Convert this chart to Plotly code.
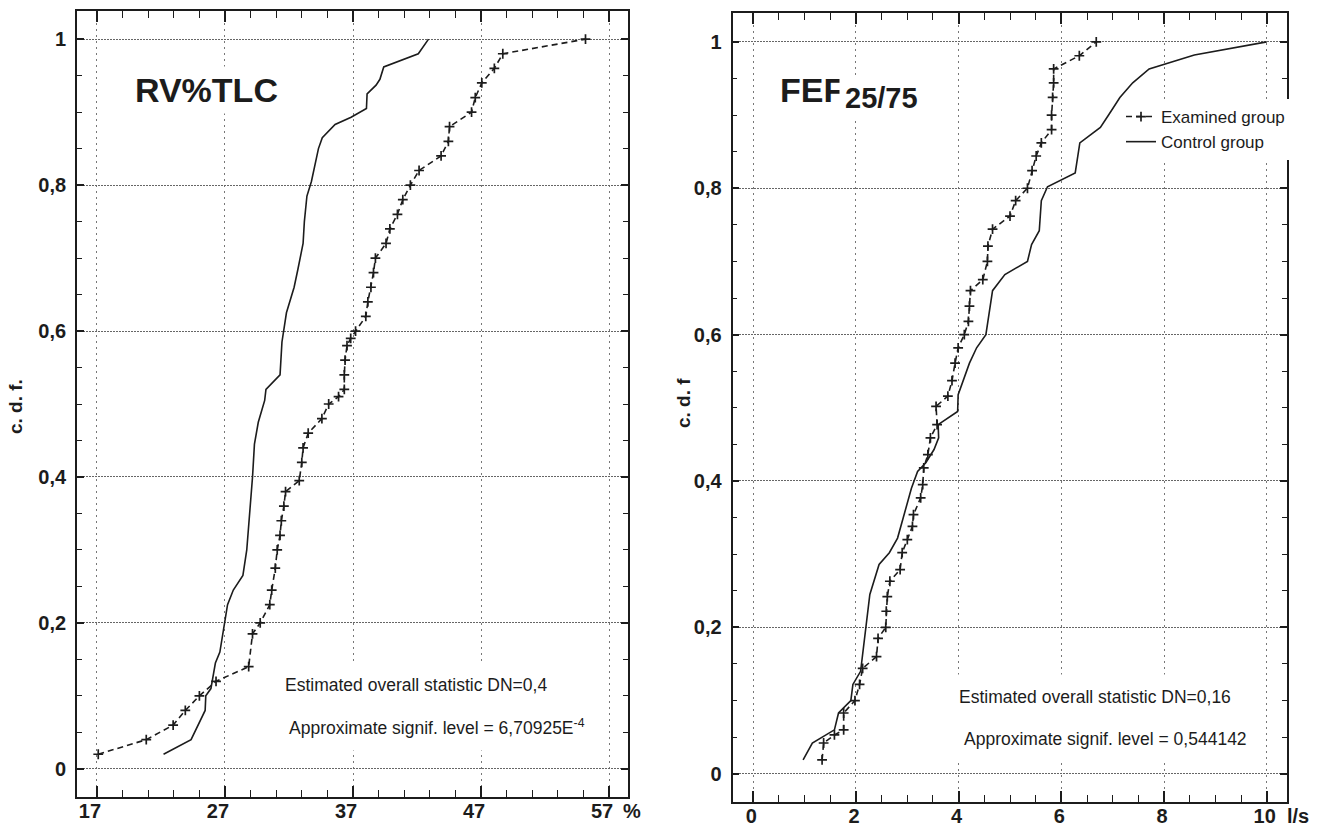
import plotly.graph_objects as go

# ---------------- data ----------------
# Left panel: RV%TLC (%)
rv_control_x = [22.2, 24.35, 25.45, 25.5, 25.9, 26.25, 26.6, 26.8, 27.0, 27.2, 27.65, 28.4, 28.7, 28.95,
                29.15, 29.3, 29.6, 30.1, 30.2, 31.3, 31.45, 31.8, 32.4, 32.7, 33.1, 33.2, 33.4, 33.75,
                34.1, 34.3, 34.6, 35.6, 36.85, 38.05, 38.1, 38.8, 39.1, 39.4, 42.1, 42.9]
rv_control_y = [0.02, 0.04, 0.08, 0.10, 0.11, 0.145, 0.16, 0.18, 0.20, 0.225, 0.245, 0.265, 0.30, 0.355,
                0.40, 0.445, 0.475, 0.505, 0.52, 0.54, 0.585, 0.625, 0.66, 0.685, 0.72, 0.75, 0.785, 0.805,
                0.835, 0.85, 0.865, 0.883, 0.893, 0.905, 0.925, 0.937, 0.945, 0.962, 0.98, 1.0]

rv_exam_x = [17.1, 20.85, 22.95, 23.9, 25.0, 26.3, 28.85, 29.15, 29.75, 30.5, 30.65, 30.93, 31.08, 31.3,
             31.4, 31.6, 31.73, 32.8, 33.0, 33.1, 33.5, 34.57, 35.1, 35.87, 36.32, 36.32, 36.38, 36.53,
             36.82, 37.2, 38.0, 38.16, 38.4, 38.6, 38.75, 39.58, 39.88, 40.47, 40.89, 41.48, 42.16,
             43.88, 44.45, 44.54, 46.26, 46.55, 47.06, 48.04, 48.7, 55.16]
rv_exam_y = [0.02, 0.04, 0.06, 0.08, 0.10, 0.12, 0.14, 0.185, 0.20, 0.225, 0.245, 0.275, 0.30, 0.32,
             0.34, 0.36, 0.38, 0.395, 0.42, 0.44, 0.46, 0.48, 0.50, 0.51, 0.52, 0.54, 0.56, 0.58,
             0.59, 0.60, 0.62, 0.64, 0.66, 0.68, 0.70, 0.72, 0.74, 0.76, 0.78, 0.80, 0.82,
             0.84, 0.86, 0.88, 0.90, 0.92, 0.94, 0.96, 0.98, 1.0]

# Right panel: FEF25/75 (l/s)
fef_control_x = [0.97, 1.15, 1.58, 1.66, 1.90, 1.94, 2.09, 2.27, 2.45, 2.65, 2.81, 3.08, 3.2, 3.36, 3.52,
                 3.61, 3.6, 3.98, 3.99, 4.21, 4.35, 4.53, 4.66, 4.9, 5.34, 5.42, 5.57, 5.61, 5.73, 6.27,
                 6.36, 6.76, 6.92, 7.14, 7.39, 7.71, 8.59, 10.0]
fef_control_y = [0.019, 0.042, 0.06, 0.083, 0.10, 0.122, 0.14, 0.245, 0.286, 0.302, 0.322, 0.39, 0.413,
                 0.425, 0.443, 0.459, 0.477, 0.495, 0.518, 0.561, 0.582, 0.60, 0.66, 0.682, 0.70, 0.723,
                 0.742, 0.783, 0.802, 0.821, 0.862, 0.883, 0.90, 0.924, 0.944, 0.963, 0.982, 1.0]

fef_exam_x = [1.34, 1.37, 1.58, 1.76, 1.76, 1.98, 2.07, 2.13, 2.40, 2.43, 2.58, 2.59, 2.61, 2.66, 2.86,
              2.90, 3.0, 3.1, 3.12, 3.26, 3.30, 3.32, 3.40, 3.45, 3.58, 3.56, 3.79, 3.87, 3.93, 3.99,
              4.11, 4.19, 4.21, 4.23, 4.47, 4.56, 4.57, 4.66, 5.0, 5.11, 5.34, 5.43, 5.51, 5.61, 5.81,
              5.81, 5.83, 5.85, 5.85, 6.35, 6.68]
fef_exam_y = [0.019, 0.042, 0.053, 0.06, 0.083, 0.10, 0.122, 0.144, 0.16, 0.185, 0.20, 0.222, 0.242,
              0.263, 0.279, 0.302, 0.32, 0.338, 0.354, 0.377, 0.395, 0.418, 0.436, 0.459, 0.477, 0.502,
              0.516, 0.537, 0.561, 0.582, 0.60, 0.618, 0.639, 0.66, 0.675, 0.70, 0.721, 0.744, 0.762,
              0.783, 0.80, 0.824, 0.844, 0.862, 0.88, 0.90, 0.924, 0.944, 0.963, 0.981, 1.0]

# ticks
rv_xticks = [17, 27, 37, 47, 57]
rv_xlabels = ["17", "27", "37", "47", "57"]
fef_xticks = [0, 2, 4, 6, 8, 10]
fef_xlabels = ["0", "2", "4", "6", "8", "10"]
y_ticks = [0, 0.2, 0.4, 0.6, 0.8, 1.0]
y_labels = ["0", "0,2", "0,4", "0,6", "0,8", "1"]

legend_names = ["Examined group", "Control group"]

# ---------------- layout helpers ----------------
W, H = 1318, 832
def fx(px):
    return px / W
def fy(py):
    return 1 - py / H

INK = "#1c1c1c"
FONT = "Liberation Sans, Arial, sans-serif"

fig = go.Figure()

exam_style = dict(mode="lines+markers",
                  line=dict(color=INK, width=1.6, dash="6px,4px"),
                  marker=dict(symbol="cross-thin", size=7, line=dict(color=INK, width=1.7)))
ctrl_style = dict(mode="lines", line=dict(color=INK, width=1.6))

fig.add_trace(go.Scatter(x=rv_exam_x, y=rv_exam_y, xaxis="x", yaxis="y", showlegend=False,
                         name=legend_names[0], **exam_style))
fig.add_trace(go.Scatter(x=rv_control_x, y=rv_control_y, xaxis="x", yaxis="y", showlegend=False,
                         name=legend_names[1], **ctrl_style))
fig.add_trace(go.Scatter(x=fef_exam_x, y=fef_exam_y, xaxis="x2", yaxis="y2", showlegend=True,
                         name=legend_names[0], **exam_style))
fig.add_trace(go.Scatter(x=fef_control_x, y=fef_control_y, xaxis="x2", yaxis="y2", showlegend=True,
                         name=legend_names[1], **ctrl_style))

tickfont = dict(family=FONT, size=20, color=INK, weight="bold")

def xax(domain, rng, tv, tt, minor_dtick, minor_tick0, y_anchor, shift):
    return dict(domain=domain, range=rng, anchor=y_anchor,
                tickmode="array", tickvals=tv, ticktext=tt, tickfont=tickfont,
                ticks="inside", ticklen=11, tickwidth=1.6, tickcolor=INK,
                showline=True, linewidth=1.8, linecolor=INK, mirror="ticks",
                showgrid=True, gridcolor="#777", griddash="2px,4px", gridwidth=1,
                zeroline=False, ticklabelstandoff=-5, ticklabelshift=shift,
                minor=dict(tickmode="linear", tick0=minor_tick0, dtick=minor_dtick,
                           ticks="inside", ticklen=7, tickwidth=1.3, tickcolor=INK, showgrid=False))

def yax(domain, x_anchor):
    return dict(domain=domain, range=[-0.039, 1.039], anchor=x_anchor,
                tickmode="array", tickvals=y_ticks, ticktext=y_labels, tickfont=tickfont,
                ticks="inside", ticklen=7, tickwidth=1.6, tickcolor=INK,
                showline=True, linewidth=1.8, linecolor=INK, mirror="ticks",
                showgrid=True, gridcolor="#666", griddash="2px,1px", gridwidth=1,
                zeroline=False, ticklabelstandoff=5,
                minor=dict(tickmode="linear", tick0=0, dtick=0.05,
                           ticks="inside", ticklen=5, tickwidth=1.3, tickcolor=INK, showgrid=False))

fig.update_layout(
    width=W, height=H, margin=dict(l=0, r=0, t=0, b=0),
    paper_bgcolor="white", plot_bgcolor="white",
    font=dict(family=FONT, color=INK),
    xaxis=xax([fx(77), fx(628)], [15.44, 58.48], rv_xticks, rv_xlabels, 2, 17, "y", -7),
    yaxis=yax([fy(797.3), fy(10.7)], "x"),
    xaxis2=xax([fx(732.5), fx(1287)], [-0.405, 10.395], fef_xticks, fef_xlabels, 0.5, 0, "y2", -2),
    yaxis2=yax([fy(802.3), fy(13.3)], "x2"),
    showlegend=True,
    legend=dict(x=fx(1121), y=fy(99), xanchor="left", yanchor="top",
                bgcolor="white", borderwidth=0, font=dict(family=FONT, size=17, color=INK),
                tracegroupgap=0, itemwidth=30),
)

def ann(text, px, py, size, bold=False, xanchor="center", yanchor="middle", bg=None, pad=1, angle=0):
    shift = pad if xanchor == "left" else 0
    d = dict(text=text, x=fx(px - shift), y=fy(py), xref="paper", yref="paper",
             xanchor=xanchor, yanchor=yanchor, showarrow=False, textangle=angle,
             font=dict(family=FONT, size=size, color=INK, weight="bold" if bold else "normal"),
             borderpad=pad)
    if bg:
        d["bgcolor"] = bg
    fig.add_annotation(**d)

# panel titles
ann("RV%TLC", 206, 90, 34, bold=True, bg="white", pad=4)
ann("FEF", 779, 90, 34, bold=True, xanchor="left", bg="white", pad=4)
ann("25/75", 844, 98, 29, bold=True, xanchor="left", bg="white", pad=5)

# statistics text
ann("Estimated overall statistic DN=0,4", 284, 685, 17.5, xanchor="left", bg="white", pad=12)
ann("Approximate signif. level = 6,70925E<sup>-4</sup>", 288, 727, 17.5, xanchor="left", bg="white", pad=12)
ann("Estimated overall statistic DN=0,16", 958, 697, 17.5, xanchor="left", bg="white", pad=12)
ann("Approximate signif. level = 0,544142", 963, 739, 17.5, xanchor="left", bg="white", pad=12)

# axis units and titles
ann("%", 632, 811, 20, bold=True)
ann("l/s", 1298, 816, 20, bold=True)
ann("c. d. f.", 15, 407, 19, bold=True, angle=-90)
ann("c. d. f", 683, 403, 19, bold=True, angle=-90)

fig.write_html("out.html", config={"displayModeBar": False},
               post_script="document.body.style.margin='0';")
